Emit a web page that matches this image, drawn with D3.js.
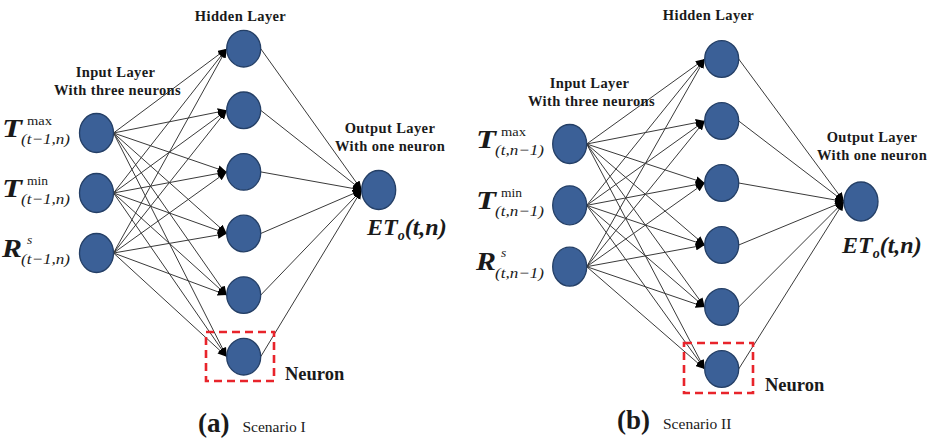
<!DOCTYPE html>
<html>
<head>
<meta charset="utf-8">
<script src="https://cdn.jsdelivr.net/npm/d3@7"></script>
<style>
  html, body { margin: 0; padding: 0; background: #fff; }
  svg { display: block; }
  text { font-family: "Liberation Serif", "Times New Roman", serif; fill: #1a1a1a; }
</style>
</head>
<body>
<svg id="chart" width="937" height="443" font-family="Liberation Serif, serif"></svg>
<script>
// Network structure: three inputs, six hidden neurons, one output
const inputBases = ["T", "T", "R"];
const inputSupers = ["max", "min", "s"];
const subsScenarioI = ["(t\u22121,n)", "(t\u22121,n)", "(t\u22121,n)"];
const subsScenarioII = ["(t,n\u22121)", "(t,n\u22121)", "(t,n\u22121)"];
const hiddenNeurons = [1, 2, 3, 4, 5, 6];
const outputNeurons = [1];
const panelTags = ["(a)", "(b)"];
const panelScenarios = ["Scenario I", "Scenario II"];
const layerTitles = ["Input Layer", "With three neurons", "Hidden Layer", "Output Layer", "With one neuron"];

// Geometry of each panel
const layouts = [
  { x: { input: 96.5, hidden: 243.7, output: 378.7 },
    inY: [133, 253], hidY: [48.7, 356.7], outY: 190,
    box: [206, 332, 274, 381], neuron: [285, 379.5],
    inTitle: [115.5, 76.5, 95], hidTitle: [240.5, 21], outTitle: [390, 132.5, 150.5],
    et: [367, 235], cap: [198, 432], labelX: 2, subs: subsScenarioI },
  { x: { input: 569.7, hidden: 721.7, output: 861 },
    inY: [144, 266.7], hidY: [59, 369], outY: 201.5,
    box: [684, 343, 753, 393], neuron: [765, 391],
    inTitle: [589.5, 87.5, 105.5], hidTitle: [708.5, 19.5], outTitle: [872, 141.5, 160],
    et: [842, 253], cap: [617, 428.5], labelX: 476, subs: subsScenarioII }
];

const RX = 17, RY_IO = 19.5, RY_H = 18.3;
const svg = d3.select("#chart");

const defs = svg.append("defs");
defs.append("marker")
  .attr("id", "arrow")
  .attr("markerUnits", "userSpaceOnUse")
  .attr("viewBox", "0 -4 9 8")
  .attr("refX", 9).attr("refY", 0)
  .attr("markerWidth", 9).attr("markerHeight", 8)
  .attr("orient", "auto")
  .append("path")
  .attr("d", "M0,-3.8L9,0L0,3.8Z")
  .attr("fill", "#000");

layouts.forEach((L, p) => {
  const g = svg.append("g");

  const yIn = d3.scaleLinear().domain([0, inputBases.length - 1]).range(L.inY);
  const yHid = d3.scaleLinear().domain([0, hiddenNeurons.length - 1]).range(L.hidY);
  const yOut = d3.scaleLinear().domain([0, 1]).range([L.outY, L.outY]);

  const inNodes = inputBases.map((b, i) => ({ x: L.x.input, y: yIn(i), ry: RY_IO }));
  const hidNodes = hiddenNeurons.map((d, i) => ({ x: L.x.hidden, y: yHid(i), ry: RY_H }));
  const outNodes = outputNeurons.map((d, i) => ({ x: L.x.output, y: yOut(i), ry: RY_IO }));

  // Connections input -> hidden -> output
  const links = [];
  inNodes.forEach(a => hidNodes.forEach(b => links.push({ a, b })));
  hidNodes.forEach(a => outNodes.forEach(b => links.push({ a, b })));

  g.selectAll("line").data(links).join("line")
    .attr("x1", d => d.a.x + RX).attr("y1", d => d.a.y)
    .attr("x2", d => d.b.x - RX).attr("y2", d => d.b.y)
    .attr("stroke", "#3a3a3a").attr("stroke-width", 1)
    .attr("marker-end", "url(#arrow)");

  // Neurons
  const allNodes = inNodes.concat(hidNodes, outNodes);
  g.selectAll("ellipse").data(allNodes).join("ellipse")
    .attr("cx", d => d.x).attr("cy", d => d.y)
    .attr("rx", RX).attr("ry", d => d.ry)
    .attr("fill", "#3b6097")
    .attr("stroke", "#243f66").attr("stroke-width", 1.3);

  // Highlight box around one neuron
  g.append("rect")
    .attr("x", L.box[0]).attr("y", L.box[1])
    .attr("width", L.box[2] - L.box[0]).attr("height", L.box[3] - L.box[1])
    .attr("fill", "none").attr("stroke", "#e8242b")
    .attr("stroke-width", 2.6).attr("stroke-dasharray", "8,5");

  g.append("text").attr("x", L.neuron[0]).attr("y", L.neuron[1])
    .attr("font-size", 18.5).attr("font-weight", "bold").text("Neuron");

  // Layer titles
  const title = (x, y, t, size) => g.append("text")
    .attr("x", x).attr("y", y).attr("text-anchor", "middle")
    .attr("font-size", size).attr("font-weight", "bold")
    .attr("letter-spacing", 0.4).text(t);
  title(L.inTitle[0], L.inTitle[1], layerTitles[0], 14.5);
  title(L.inTitle[0] + 2, L.inTitle[2], layerTitles[1], 14.5);
  title(L.hidTitle[0], L.hidTitle[1], layerTitles[2], 14.5);
  title(L.outTitle[0], L.outTitle[1], layerTitles[3], 14.5);
  title(L.outTitle[0], L.outTitle[2], layerTitles[4], 14.5);

  // Input variable labels: base symbol with superscript and subscript
  inNodes.forEach((n, i) => {
    const base = inputBases[i];
    const by = n.y + 3.5;
    g.append("text").attr("x", L.labelX).attr("y", by)
      .attr("font-size", 25).attr("font-weight", "bold").attr("font-style", "italic")
      .attr("textLength", 20).attr("lengthAdjust", "spacingAndGlyphs")
      .text(base);
    const sup = g.append("text").attr("x", L.labelX + 25).attr("y", by - (base === "R" ? 13 : 11.5))
      .attr("font-size", 13.5).attr("font-style", base === "R" ? "italic" : "normal")
      .text(inputSupers[i]);
    if (inputSupers[i] === "max") sup.attr("textLength", 25).attr("lengthAdjust", "spacingAndGlyphs");
    g.append("text").attr("x", L.labelX + 19).attr("y", by + 7.5)
      .attr("font-size", 15).attr("font-style", "italic")
      .attr("textLength", 49).attr("lengthAdjust", "spacingAndGlyphs")
      .text(L.subs[i]);
  });

  // Output variable label ET_o(t,n)
  const et = g.append("text").attr("x", L.et[0]).attr("y", L.et[1])
    .attr("font-size", 24).attr("font-weight", "bold").attr("font-style", "italic");
  et.append("tspan").text("ET");
  et.append("tspan").attr("font-size", 14).attr("dy", 5).text("o");
  et.append("tspan").attr("dy", -5).text("(t,n)");

  // Panel caption
  const cap = g.append("text").attr("x", L.cap[0]).attr("y", L.cap[1]);
  cap.append("tspan").attr("font-size", 27).attr("font-weight", "bold").text(panelTags[p]);
  cap.append("tspan").attr("dx", 13).attr("font-size", 15.5).text(panelScenarios[p]);
});
</script>
</body>
</html>
